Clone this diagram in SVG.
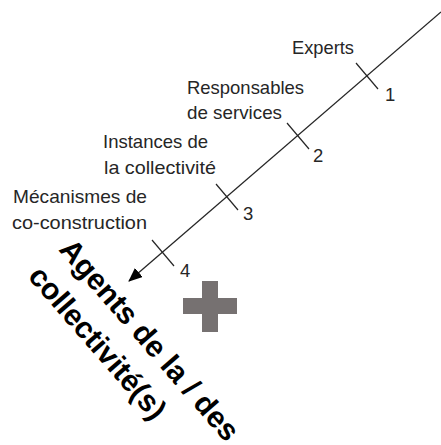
<svg xmlns="http://www.w3.org/2000/svg" width="441" height="445" viewBox="0 0 441 445">
  <style>
    .lbl { font-family: "Liberation Sans", Arial, sans-serif; font-size: 18.5px; fill: #262626; }
    .num { font-family: "Liberation Sans", Arial, sans-serif; font-size: 18.5px; fill: #262626; }
    .tick { stroke: #262626; stroke-width: 1.2; fill: none; }
    .big { font-family: "Liberation Sans", Arial, sans-serif; font-size: 30px; font-weight: bold; fill: #000; }
  </style>
  <defs>
    <marker id="arrow" markerWidth="14" markerHeight="12" refX="13" refY="6" orient="auto" markerUnits="userSpaceOnUse">
      <path d="M0,0 L14,6 L0,12 Z" fill="#000"/>
    </marker>
  </defs>
  <rect width="441" height="445" fill="#fff"/>
  <g id="connectors">
    <line x1="441" y1="12" x2="129" y2="281" stroke="#262626" stroke-width="1.3" marker-end="url(#arrow)"/>
  </g>
  <g id="node-experts">
    <line class="tick" x1="356" y1="63" x2="378" y2="89"/>
    <text class="lbl" x="292" y="54" textLength="62" lengthAdjust="spacingAndGlyphs">Experts</text>
    <text class="num" x="385" y="101">1</text>
  </g>
  <g id="node-responsables">
    <line class="tick" x1="287" y1="123" x2="309" y2="149"/>
    <text class="lbl" x="187" y="94" textLength="117" lengthAdjust="spacingAndGlyphs">Responsables</text>
    <text class="lbl" x="187" y="119" textLength="95" lengthAdjust="spacingAndGlyphs">de services</text>
    <text class="num" x="313" y="162">2</text>
  </g>
  <g id="node-instances">
    <line class="tick" x1="216" y1="184" x2="238" y2="210"/>
    <text class="lbl" x="103" y="148" textLength="105" lengthAdjust="spacingAndGlyphs">Instances de</text>
    <text class="lbl" x="104" y="174" textLength="112" lengthAdjust="spacingAndGlyphs">la collectivité</text>
    <text class="num" x="243" y="220">3</text>
  </g>
  <g id="node-mecanismes">
    <line class="tick" x1="152" y1="240" x2="174" y2="266"/>
    <text class="lbl" x="13" y="203" textLength="134" lengthAdjust="spacingAndGlyphs">Mécanismes de</text>
    <text class="lbl" x="12" y="229" textLength="135" lengthAdjust="spacingAndGlyphs">co-construction</text>
    <text class="num" x="180" y="277">4</text>
  </g>
  <g id="node-agents" transform="translate(58,250) rotate(49)">
    <text class="big" x="0" y="0" textLength="256" lengthAdjust="spacingAndGlyphs">Agents de la / des</text>
    <text class="big" x="0" y="41" textLength="192" lengthAdjust="spacingAndGlyphs">collectivité(s)</text>
  </g>
  <g id="node-plus" fill="#767171">
    <rect x="183" y="298" width="54" height="16"/>
    <rect x="202" y="281" width="16" height="51"/>
  </g>
</svg>
